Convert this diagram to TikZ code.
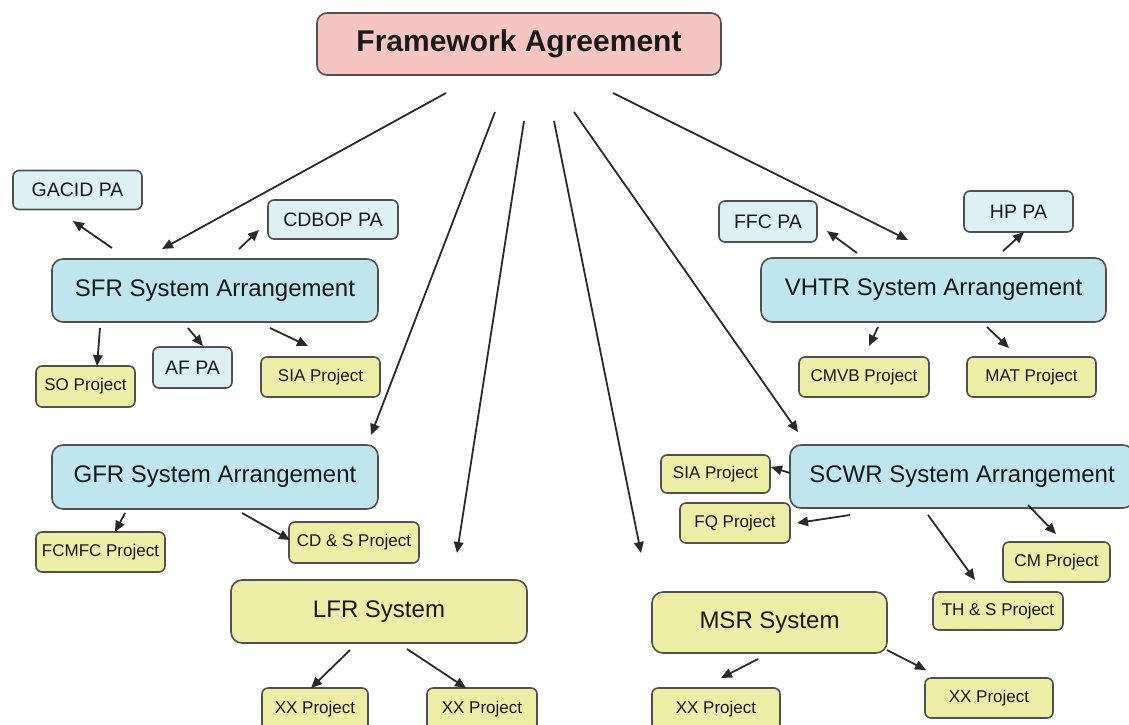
\documentclass[tikz,border=0pt]{standalone}
\usepackage{fontspec}
\setmainfont{Liberation Sans}
\usetikzlibrary{arrows.meta}

\definecolor{faPink}{HTML}{F5C6C1}
\definecolor{sysBlue}{HTML}{BFE6EF}
\definecolor{paBlue}{HTML}{DDF0F4}
\definecolor{projYellow}{HTML}{EDEDA6}
\definecolor{edgeGray}{HTML}{505050}
\definecolor{lineGray}{HTML}{2A2A2A}

\tikzset{
  base/.style={draw=edgeGray, line width=1.6pt, inner sep=0pt, align=center, text=black!90},
  topbox/.style={base, fill=faPink, rounded corners=10pt, font=\fontsize{30}{33}\selectfont\bfseries},
  sysbox/.style={base, fill=sysBlue, rounded corners=11pt, font=\fontsize{24}{28}\selectfont},
  plainsys/.style={base, fill=projYellow, rounded corners=11pt, font=\fontsize{24}{28}\selectfont},
  pabox/.style={base, fill=paBlue, rounded corners=6pt, font=\fontsize{19.5}{22}\selectfont},
  projbox/.style={base, fill=projYellow, rounded corners=6pt, font=\fontsize{17}{20}\selectfont},
  arr/.style={draw=lineGray, line width=1.8pt, -{Triangle[length=11pt,width=9.5pt]}},
}

\begin{document}
\begin{tikzpicture}[x=1pt, y=-1pt]
\useasboundingbox (0,0) rectangle (1129,724);

% top level agreement
\node[topbox, minimum width=404, minimum height=62] (fa) at (519,44) {Framework Agreement};

% SFR branch
\node[sysbox, minimum width=326, minimum height=63] (sfr) at (215,290.5) {SFR System Arrangement};
\node[pabox, minimum width=129, minimum height=39] (gacid) at (77.5,190) {GACID PA};
\node[pabox, minimum width=130, minimum height=39] (cdbop) at (333,219.5) {CDBOP PA};
\node[pabox, minimum width=79, minimum height=41] (af) at (192.5,367.5) {AF PA};
\node[projbox, minimum width=99, minimum height=41] (so) at (85.5,386.5) {SO Project};
\node[projbox, minimum width=119, minimum height=40] (siaA) at (320.5,377) {SIA Project};

% VHTR branch
\node[sysbox, minimum width=345, minimum height=64] (vhtr) at (933.5,290) {VHTR System Arrangement};
\node[pabox, minimum width=98, minimum height=41] (ffc) at (768,221.5) {FFC PA};
\node[pabox, minimum width=109, minimum height=41] (hp) at (1018.5,211.5) {HP PA};
\node[projbox, minimum width=130, minimum height=40] (cmvb) at (864,377) {CMVB Project};
\node[projbox, minimum width=129, minimum height=40] (mat) at (1031.5,377) {MAT Project};

% GFR branch
\node[sysbox, minimum width=326, minimum height=64] (gfr) at (215,477) {GFR System Arrangement};
\node[projbox, minimum width=129, minimum height=40] (fcmfc) at (100.5,552) {FCMFC Project};
\node[projbox, minimum width=130, minimum height=41] (cds) at (354,542.5) {CD \& S Project};

% LFR branch
\node[plainsys, minimum width=296, minimum height=63] (lfr) at (379,611.5) {LFR System};
\node[projbox, minimum width=106, minimum height=42] (xxA) at (315,709) {XX Project};
\node[projbox, minimum width=110, minimum height=42] (xxB) at (482,709) {XX Project};

% SCWR branch
\node[sysbox, minimum width=344, minimum height=63] (scwr) at (962,476.5) {SCWR System Arrangement};
\node[projbox, minimum width=109, minimum height=38] (siaB) at (715.5,474) {SIA Project};
\node[projbox, minimum width=110, minimum height=40] (fq) at (735,523) {FQ Project};
\node[projbox, minimum width=107, minimum height=40] (cm) at (1056.5,562) {CM Project};
\node[projbox, minimum width=130, minimum height=38] (ths) at (998,611) {TH \& S Project};

% MSR branch
\node[plainsys, minimum width=235, minimum height=61] (msr) at (769.5,622.5) {MSR System};
\node[projbox, minimum width=128, minimum height=42] (xxC) at (716,709) {XX Project};
\node[projbox, minimum width=128, minimum height=40] (xxD) at (989,698) {XX Project};

% arrow end points (arrows float between the boxes)
\coordinate (fa-sfr-s) at (446,93);   \coordinate (fa-sfr-e) at (162,249);
\coordinate (fa-gfr-s) at (495,112);  \coordinate (fa-gfr-e) at (371,435);
\coordinate (fa-lfr-s) at (524,121);  \coordinate (fa-lfr-e) at (457,553);
\coordinate (fa-msr-s) at (554,121);  \coordinate (fa-msr-e) at (641,553);
\coordinate (fa-scwr-s) at (574,112); \coordinate (fa-scwr-e) at (798,432);
\coordinate (fa-vhtr-s) at (613,93);  \coordinate (fa-vhtr-e) at (908,240);

\coordinate (sfr-gacid-s) at (112,248); \coordinate (sfr-gacid-e) at (73,221);
\coordinate (sfr-cdbop-s) at (239,249); \coordinate (sfr-cdbop-e) at (259,230);
\coordinate (sfr-so-s) at (100,328);    \coordinate (sfr-so-e) at (97,366);
\coordinate (sfr-af-s) at (188,328);    \coordinate (sfr-af-e) at (203,346);
\coordinate (sfr-sia-s) at (270,328);   \coordinate (sfr-sia-e) at (308,346);

\coordinate (vhtr-ffc-s) at (857,253);  \coordinate (vhtr-ffc-e) at (827,231);
\coordinate (vhtr-hp-s) at (1003,251);  \coordinate (vhtr-hp-e) at (1024,232);
\coordinate (vhtr-cmvb-s) at (878,327); \coordinate (vhtr-cmvb-e) at (869,346);
\coordinate (vhtr-mat-s) at (987,327);  \coordinate (vhtr-mat-e) at (1009,348);

\coordinate (gfr-fcmfc-s) at (125,513); \coordinate (gfr-fcmfc-e) at (115,532);
\coordinate (gfr-cds-s) at (242,513);   \coordinate (gfr-cds-e) at (290,540);

\coordinate (lfr-xxA-s) at (350,650);   \coordinate (lfr-xxA-e) at (311,688);
\coordinate (lfr-xxB-s) at (407,649);   \coordinate (lfr-xxB-e) at (466,688);

\coordinate (scwr-sia-s) at (790,473);  \coordinate (scwr-sia-e) at (771,467);
\coordinate (scwr-fq-s) at (850,515);   \coordinate (scwr-fq-e) at (797,523);
\coordinate (scwr-ths-s) at (928,515);  \coordinate (scwr-ths-e) at (975,580);
\coordinate (scwr-cm-s) at (1028,505);  \coordinate (scwr-cm-e) at (1056,534);

\coordinate (msr-xxC-s) at (758,659);   \coordinate (msr-xxC-e) at (721,678);
\coordinate (msr-xxD-s) at (887,650);   \coordinate (msr-xxD-e) at (926,670);

% connectors
\foreach \a in {fa-sfr, fa-gfr, fa-lfr, fa-msr, fa-scwr, fa-vhtr,
                sfr-gacid, sfr-cdbop, sfr-so, sfr-af, sfr-sia,
                vhtr-ffc, vhtr-hp, vhtr-cmvb, vhtr-mat,
                gfr-fcmfc, gfr-cds, lfr-xxA, lfr-xxB,
                scwr-sia, scwr-fq, scwr-ths, scwr-cm,
                msr-xxC, msr-xxD}
  \draw[arr] (\a-s) -- (\a-e);
\end{tikzpicture}
\end{document}
